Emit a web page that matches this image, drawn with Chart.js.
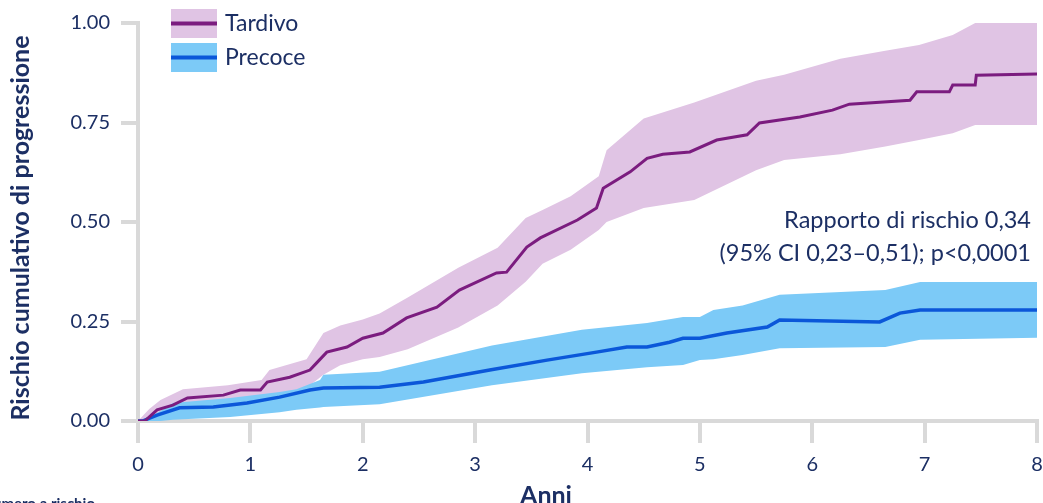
<!DOCTYPE html>
<html>
<head>
<meta charset="utf-8">
<script src="https://cdn.jsdelivr.net/npm/chart.js@4/dist/chart.umd.min.js"></script>
<style>
html,body{margin:0;padding:0;background:#fff;}
canvas{display:block;}
</style>
</head>
<body>
<canvas id="c" width="1043" height="503"></canvas>
<script>
// ---- data ----
const seriesNames = ["Tardivo", "Precoce"];
const yTicks = [0, 0.25, 0.5, 0.75, 1.0];
const xTicks = [0, 1, 2, 3, 4, 5, 6, 7, 8];

const tardivoT = [0,0.06,0.17,0.31,0.44,0.76,0.91,1.09,1.15,1.35,1.53,1.59,1.68,1.86,2.0,2.18,2.39,2.66,2.86,3.19,3.28,3.46,3.58,3.91,4.08,4.14,4.38,4.53,4.67,4.91,5.15,5.42,5.53,5.89,6.18,6.33,6.87,6.93,7.22,7.25,7.45,7.46,8.0];
const tardivoV = [0,0,0.028,0.04,0.058,0.065,0.078,0.078,0.098,0.11,0.128,0.146,0.173,0.186,0.208,0.221,0.259,0.286,0.329,0.372,0.374,0.437,0.46,0.505,0.535,0.585,0.626,0.66,0.67,0.676,0.706,0.719,0.749,0.764,0.781,0.796,0.806,0.827,0.827,0.844,0.844,0.869,0.872];

const tardivoBandT = [0,0.1,0.2,0.4,0.8,1.1,1.17,1.5,1.65,1.8,2.0,2.15,2.4,2.85,3.2,3.45,3.6,3.85,4.1,4.17,4.5,4.95,5.5,5.75,6.25,6.65,6.95,7.25,7.45,8.0];
const tardivoUpper = [0,0.03,0.053,0.08,0.09,0.103,0.128,0.155,0.221,0.24,0.255,0.27,0.31,0.385,0.435,0.51,0.53,0.565,0.615,0.68,0.76,0.80,0.855,0.87,0.91,0.93,0.945,0.97,1.0,1.0];
const tardivoLower = [0,0,0.008,0.02,0.033,0.05,0.055,0.083,0.116,0.14,0.155,0.161,0.18,0.235,0.29,0.35,0.395,0.43,0.48,0.5,0.535,0.555,0.63,0.656,0.67,0.69,0.706,0.723,0.744,0.744];

const precoceT = [0,0.04,0.17,0.37,0.67,0.97,1.26,1.53,1.65,2.15,2.54,3.13,3.64,4.08,4.35,4.53,4.73,4.85,5.0,5.24,5.6,5.71,6.6,6.78,6.96,8.0];
const precoceV = [0,0,0.015,0.033,0.035,0.045,0.06,0.078,0.083,0.085,0.098,0.128,0.153,0.173,0.186,0.186,0.198,0.208,0.208,0.221,0.236,0.254,0.249,0.271,0.279,0.279];

const precoceBandT = [0,0.1,0.2,0.31,0.82,1.26,1.41,1.62,1.65,2.15,3.15,3.95,4.53,4.85,5.0,5.12,5.38,5.71,6.65,6.96,8.0];
const precoceUpper = [0,0.01,0.025,0.045,0.058,0.073,0.08,0.103,0.116,0.124,0.19,0.229,0.246,0.261,0.261,0.279,0.29,0.317,0.329,0.349,0.349];
const precoceLower = [0,0,0,0.003,0.01,0.022,0.028,0.034,0.035,0.042,0.09,0.12,0.135,0.141,0.153,0.155,0.166,0.183,0.186,0.204,0.209];

const xTitle = "Anni";
const yTitle = "Rischio cumulativo di progressione";
const noteLines = ["Rapporto di rischio 0,34", "(95% CI 0,23\u20130,51); p<0,0001"];
const footText = "Numero a rischio";

// ---- style ----
const NAVY = "#1c2f64";
const PURPLE = "#7b1c7f";
const PURPLE_BAND = "#e0c4e4";
const BLUE = "#0b57d9";
const BLUE_BAND = "#7ccaf7";
const AXIS = "#d9d9d9";
const FONT = "Lato, 'Open Sans', sans-serif";

const pts = (t, v) => t.map((x, i) => ({x: x, y: v[i]}));

const overlay = {
  id: "overlay",
  afterDraw(chart) {
    const ctx = chart.ctx;
    ctx.save();
    // legend
    const items = [
      {name: seriesNames[0], band: PURPLE_BAND, line: PURPLE, y: 9},
      {name: seriesNames[1], band: BLUE_BAND, line: BLUE, y: 43}
    ];
    items.forEach(it => {
      ctx.fillStyle = it.band;
      ctx.fillRect(171, it.y, 46, 29);
      ctx.fillStyle = it.line;
      ctx.fillRect(171, it.y + 12.5, 46, 4);
      ctx.fillStyle = NAVY;
      ctx.font = "23px " + FONT;
      ctx.textAlign = "left";
      ctx.textBaseline = "middle";
      ctx.fillText(it.name, 225, it.y + 14.5);
    });
    // annotation
    ctx.font = "23.5px " + FONT;
    ctx.textAlign = "right";
    ctx.textBaseline = "middle";
    ctx.fillStyle = NAVY;
    ctx.fillText(noteLines[0], 1031, 220);
    ctx.fillText(noteLines[1], 1031, 253);
    // x title
    ctx.font = "bold 25px " + FONT;
    ctx.textAlign = "center";
    ctx.textBaseline = "alphabetic";
    ctx.fillText(xTitle, 546, 504);
    // y title
    ctx.save();
    ctx.translate(21, 228);
    ctx.rotate(-Math.PI / 2);
    ctx.font = "bold 25px " + FONT;
    ctx.textAlign = "center";
    ctx.textBaseline = "middle";
    ctx.fillText(yTitle, 0, 0);
    ctx.restore();
    // footer (cut off by the bottom edge)
    ctx.font = "bold 15px " + FONT;
    ctx.textAlign = "right";
    ctx.textBaseline = "alphabetic";
    ctx.fillText(footText, 95, 509);
    ctx.restore();
  }
};

new Chart(document.getElementById("c"), {
  type: "line",
  data: {
    datasets: [
      {label: seriesNames[0], data: pts(tardivoT, tardivoV), borderColor: PURPLE, borderWidth: 3, pointRadius: 0, fill: false, order: 0, tension: 0},
      {label: seriesNames[1], data: pts(precoceT, precoceV), borderColor: BLUE, borderWidth: 3.5, pointRadius: 0, fill: false, order: 1, tension: 0},
      {label: "Precoce upper", data: pts(precoceBandT, precoceUpper), borderWidth: 0, borderColor: "rgba(0,0,0,0)", backgroundColor: BLUE_BAND, pointRadius: 0, fill: 3, order: 2},
      {label: "Precoce lower", data: pts(precoceBandT, precoceLower), borderWidth: 0, borderColor: "rgba(0,0,0,0)", pointRadius: 0, fill: false, order: 3},
      {label: "Tardivo upper", data: pts(tardivoBandT, tardivoUpper), borderWidth: 0, borderColor: "rgba(0,0,0,0)", backgroundColor: PURPLE_BAND, pointRadius: 0, fill: 5, order: 4},
      {label: "Tardivo lower", data: pts(tardivoBandT, tardivoLower), borderWidth: 0, borderColor: "rgba(0,0,0,0)", pointRadius: 0, fill: false, order: 5}
    ]
  },
  options: {
    responsive: false,
    animation: false,
    devicePixelRatio: 1,
    layout: {padding: {left: 0, top: 23, right: 6, bottom: 0}},
    plugins: {legend: {display: false}, tooltip: {enabled: false}},
    scales: {
      x: {
        type: "linear", min: 0, max: 8,
        afterBuildTicks: s => { s.ticks = xTicks.map(v => ({value: v})); },
        afterFit: s => { s.height = 82; s.paddingLeft = 0; s.paddingRight = 0; },
        grid: {drawOnChartArea: false, drawTicks: true, tickLength: 22, color: AXIS, lineWidth: 4},
        border: {display: true, color: AXIS, width: 4},
        ticks: {color: NAVY, font: {family: FONT, size: 20}, padding: 10, callback: v => String(v)}
      },
      y: {
        type: "linear", min: 0, max: 1,
        afterBuildTicks: s => { s.ticks = yTicks.map(v => ({value: v})); },
        afterFit: s => { s.width = 138; s.paddingTop = 0; s.paddingBottom = 0; },
        grid: {drawOnChartArea: false, drawTicks: true, tickLength: 17, color: AXIS, lineWidth: 4},
        border: {display: true, color: AXIS, width: 4},
        ticks: {color: NAVY, font: {family: FONT, size: 20}, padding: 11, callback: v => Number(v).toFixed(2)}
      }
    }
  },
  plugins: [overlay]
});
</script>
</body>
</html>
